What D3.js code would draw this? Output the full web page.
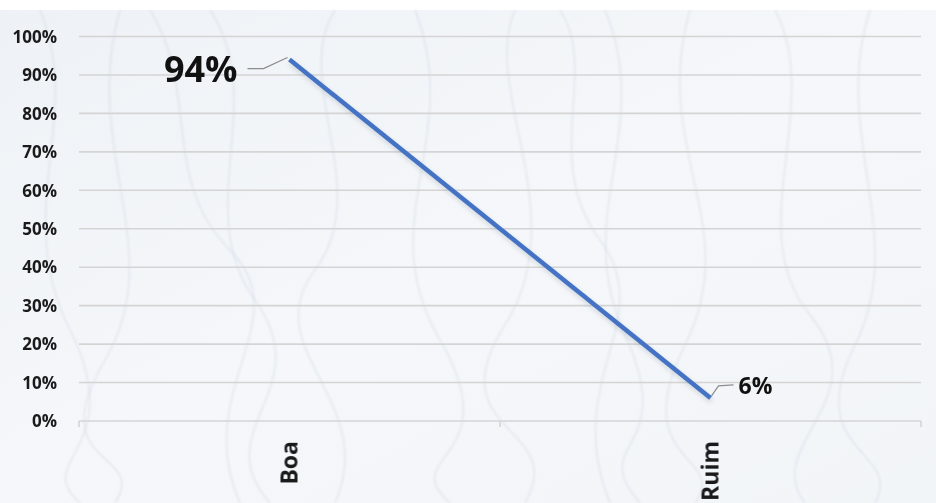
<!DOCTYPE html>
<html>
<head>
<meta charset="utf-8">
<script src="https://cdn.jsdelivr.net/npm/d3@7/dist/d3.min.js"></script>
<style>
  html, body { margin: 0; padding: 0; background: #ffffff; }
  svg { display: block; }
</style>
</head>
<body>
<svg id="chart" width="936" height="503"></svg>
<script>
// Categories and values (share of responses)
const categories = ["Boa", "Ruim"];
const values = [0.94, 0.06];
const valueLabels = ["94%", "6%"];
const yTicks = [0, 0.1, 0.2, 0.3, 0.4, 0.5, 0.6, 0.7, 0.8, 0.9, 1.0];

const W = 936, H = 503;
const svg = d3.select("#chart");

// soft textured backdrop
const defs = svg.append("defs");
const grad = defs.append("linearGradient").attr("id", "bg").attr("x1", 0).attr("y1", 0).attr("x2", 1).attr("y2", 1);
grad.append("stop").attr("offset", "0%").attr("stop-color", "#eef2f6");
grad.append("stop").attr("offset", "50%").attr("stop-color", "#f5f7fa");
grad.append("stop").attr("offset", "100%").attr("stop-color", "#f2f5f8");
defs.append("filter").attr("id", "soft").append("feGaussianBlur").attr("stdDeviation", 0.9);
const sh = defs.append("filter").attr("id", "shadow").attr("x", "-10%").attr("y", "-10%").attr("width", "120%").attr("height", "120%");
sh.append("feGaussianBlur").attr("stdDeviation", 2.5);

svg.append("rect").attr("x", 0).attr("y", 10).attr("width", W).attr("height", H - 10).attr("fill", "url(#bg)");

// faint flowing strands in the backdrop
const strands = [
  "M40,10 C85,120 10,210 70,330 S30,460 80,503",
  "M120,10 C80,150 170,250 105,360 S150,450 115,503",
  "M210,10 C270,100 190,210 255,300 S205,430 270,503",
  "M335,10 C290,80 375,190 315,270 S380,400 335,503",
  "M415,10 C465,140 370,220 440,340 S395,455 450,503",
  "M515,10 C480,90 575,215 505,325 S570,425 525,503",
  "M605,10 C655,130 570,215 625,335 S585,440 640,503",
  "M690,10 C650,150 745,225 685,345 S730,455 695,503",
  "M775,10 C825,105 740,230 810,315 S760,445 805,503",
  "M870,10 C830,135 910,235 855,345 S905,450 875,503",
  "M150,10 C200,90 160,180 230,250 S190,390 240,503",
  "M560,10 C600,70 540,160 600,240 S560,380 610,503"
];
svg.append("g").attr("filter", "url(#soft)")
  .selectAll("path").data(strands).join("path")
  .attr("d", d => d)
  .attr("fill", "none")
  .attr("stroke", "#b9c7d6")
  .attr("stroke-width", 1.2)
  .attr("opacity", 0.4);

// scales
const x = d3.scaleBand().domain(categories).range([79, 921]).padding(0);
const y = d3.scaleLinear().domain([0, 1]).range([421, 36.5]);

// gridlines
svg.append("g").selectAll("line").data(yTicks.filter(t => t > 0)).join("line")
  .attr("x1", 79).attr("x2", 921)
  .attr("y1", d => y(d)).attr("y2", d => y(d))
  .attr("stroke", "#d4d4d4").attr("stroke-width", 1.6);

// y axis labels
const yAxis = d3.axisLeft(y).tickValues(yTicks).tickFormat(d3.format(".0%")).tickSize(0).tickPadding(0);
const yg = svg.append("g").attr("transform", "translate(57,0)").call(yAxis);
yg.select(".domain").remove();
yg.selectAll("text")
  .attr("font-family", "'Open Sans', sans-serif")
  .attr("font-weight", 700)
  .attr("font-size", 17)
  .attr("fill", "#1a1a1a")
  .attr("dy", "0.34em");

// x axis with tick marks at band edges
const xg = svg.append("g").attr("transform", "translate(0,421)");
xg.append("line").attr("x1", 79).attr("x2", 921).attr("y1", 0).attr("y2", 0)
  .attr("stroke", "#d4d4d4").attr("stroke-width", 1.6);
const edges = [x.range()[0]].concat(categories.map(c => x(c) + x.bandwidth()));
xg.selectAll("line.tk").data(edges).join("line").attr("class", "tk")
  .attr("x1", d => d).attr("x2", d => d).attr("y1", 0).attr("y2", 6)
  .attr("stroke", "#d4d4d4").attr("stroke-width", 1.6);
xg.selectAll("text").data(categories).join("text")
  .attr("transform", d => `translate(${x(d) + x.bandwidth() / 2 + 8},20) rotate(-90)`)
  .attr("text-anchor", "end")
  .attr("font-family", "'Open Sans', sans-serif")
  .attr("font-weight", 700)
  .attr("font-size", 23)
  .attr("fill", "#1a1a1a")
  .text(d => d);

// line series
const pts = categories.map((c, i) => [x(c) + x.bandwidth() / 2, y(values[i])]);
const line = d3.line();
svg.append("path").attr("d", line(pts.map(p => [p[0] + 1, p[1] + 3])))
  .attr("fill", "none").attr("stroke", "#7f8c99").attr("stroke-width", 4)
  .attr("opacity", 0.35).attr("filter", "url(#shadow)");
svg.append("path").attr("d", line(pts))
  .attr("fill", "none").attr("stroke", "#4472c4").attr("stroke-width", 4.5)
  .attr("stroke-linecap", "butt");

// data labels with leader lines
const p0 = pts[0], p1 = pts[1];
svg.append("path")
  .attr("d", `M${p0[0] - 2},${p0[1] - 2} L${p0[0] - 26},${p0[1] + 9} L${p0[0] - 42},${p0[1] + 9}`)
  .attr("fill", "none").attr("stroke", "#8c8c8c").attr("stroke-width", 1.2);
svg.append("text")
  .attr("x", p0[0] - 52).attr("y", p0[1] + 10)
  .attr("dy", "0.35em")
  .attr("text-anchor", "end")
  .attr("font-family", "'Open Sans', sans-serif")
  .attr("font-weight", 700)
  .attr("font-size", 36)
  .attr("fill", "#111")
  .text(valueLabels[0]);

svg.append("path")
  .attr("d", `M${p1[0] + 1},${p1[1] - 2} L${p1[0] + 8},${p1[1] - 12} L${p1[0] + 23},${p1[1] - 13}`)
  .attr("fill", "none").attr("stroke", "#8c8c8c").attr("stroke-width", 1.2);
svg.append("text")
  .attr("x", p1[0] + 28).attr("y", p1[1] - 12)
  .attr("dy", "0.35em")
  .attr("font-family", "'Open Sans', sans-serif")
  .attr("font-weight", 700)
  .attr("font-size", 23)
  .attr("fill", "#111")
  .text(valueLabels[1]);
</script>
</body>
</html>
